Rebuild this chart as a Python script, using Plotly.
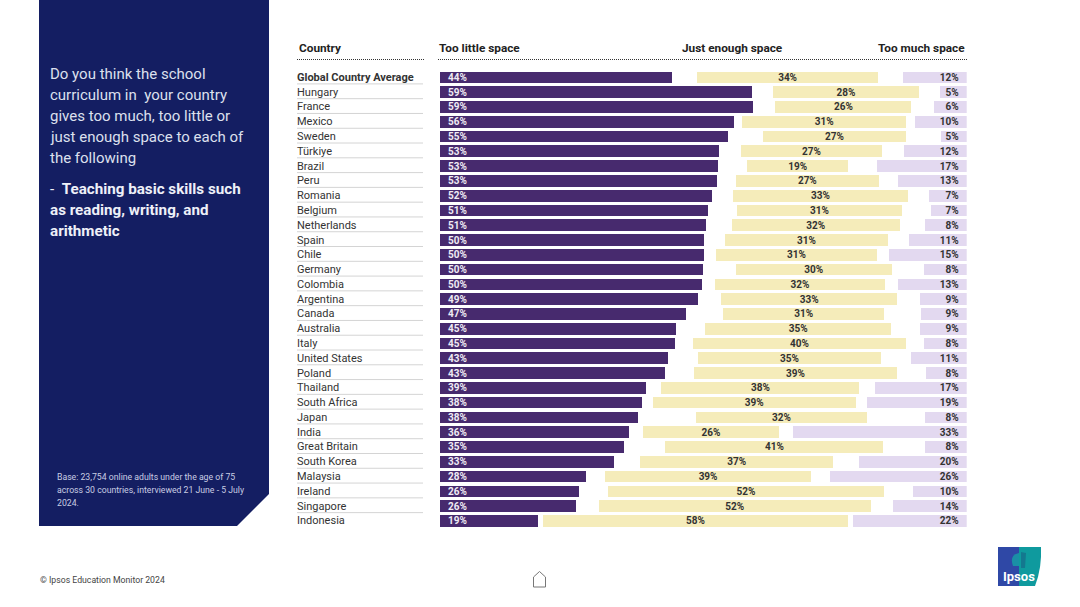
import numpy as np
import plotly.graph_objects as go

W, H = 1080, 607

countries = ["Global Country Average", "Hungary", "France", "Mexico", "Sweden", "Türkiye", "Brazil", "Peru",
             "Romania", "Belgium", "Netherlands", "Spain", "Chile", "Germany", "Colombia", "Argentina", "Canada",
             "Australia", "Italy", "United States", "Poland", "Thailand", "South Africa", "Japan", "India",
             "Great Britain", "South Korea", "Malaysia", "Ireland", "Singapore", "Indonesia"]

# the printed labels are these rounded
too_little = [44.1, 59.3, 59.4, 55.8, 54.7, 53.0, 52.8, 52.6, 51.6, 50.9, 50.6, 50.2, 50.2, 50.0, 49.7, 49.0,
              46.7, 44.9, 44.6, 43.3, 42.7, 39.1, 38.3, 37.6, 35.8, 35.0, 33.1, 27.7, 26.3, 25.9, 18.6]
just_enough = [34.4, 27.6, 25.8, 31.1, 27.0, 26.8, 19.2, 27.2, 33.4, 31.3, 32.0, 31.1, 30.6, 29.6, 32.2, 33.4,
               30.7, 35.3, 40.3, 34.7, 38.7, 37.6, 38.6, 32.3, 25.9, 41.4, 36.6, 39.0, 52.3, 51.6, 57.8]
too_much = [12.1, 5.1, 6.2, 9.9, 4.9, 11.9, 17.0, 13.1, 7.1, 6.8, 7.9, 11.0, 14.8, 8.1, 13.0, 8.8,
            8.6, 8.9, 8.1, 10.6, 7.7, 17.4, 19.0, 7.9, 32.9, 8.0, 20.4, 25.9, 10.1, 14.0, 21.6]

headers = ["Country", "Too little space", "Just enough space", "Too much space"]
question = ["Do you think the school", "curriculum in  your country", "gives too much, too little or",
            "just enough space to each of", "the following"]
statement = ["-  <b>Teaching basic skills such</b>", "<b>as reading, writing, and</b>", "<b>arithmetic</b>"]
base_note = ["Base: 23,754 online adults under the age of 75", "across 30 countries, interviewed 21 June - 5 July",
             "2024."]
footer = "© Ipsos Education Monitor 2024"

FONT = "Roboto"
PURPLE = "#472a6e"
YELLOW = "#f5ecba"
LILAC = "#e3d9f0"
NAVY = "#141e62"
NBSP = "\u00a0"


def px(x):
    return x / W


def py(y):
    return 1 - y / H


# don't knows are left out, so half of the rest sits on each side of the middle bar
gap = (100 - np.array(too_little) - np.array(just_enough) - np.array(too_much)) / 2

fig = go.Figure()


def add_bar(values, color, text=None, anchor="middle", font_color="#333333"):
    fig.add_trace(go.Bar(y=countries, x=values, orientation="h", marker=dict(color=color, line_width=0),
                         text=text, textposition="inside" if text else "none", insidetextanchor=anchor,
                         textangle=0, constraintext="none", cliponaxis=False,
                         insidetextfont=dict(family=FONT, size=10, color=font_color, weight="bold"),
                         hoverinfo="skip" if text is None else None, showlegend=False))


add_bar(too_little, PURPLE, [f"{NBSP}{NBSP}{round(v)}%" for v in too_little], "start", "#efeaf4")
add_bar(gap, "rgba(0,0,0,0)")
add_bar(just_enough, YELLOW, [f"{round(v)}%" for v in just_enough])
add_bar(gap, "rgba(0,0,0,0)")
add_bar(too_much, LILAC, [f"{round(v)}%{NBSP}{NBSP}" for v in too_much], "end")

shapes = []
# left panel with the cut corner
panel = f"M {px(39)} {py(0)} L {px(269)} {py(0)} L {px(269)} {py(494)} L {px(237)} {py(526)} L {px(39)} {py(526)} Z"
shapes.append(dict(type="path", path=panel, xref="paper", yref="paper", fillcolor=NAVY, line_width=0))

# dotted lines below the headers
for x0, x1 in [(297, 424), (438, 968)]:
    shapes.append(dict(type="line", xref="paper", yref="paper", x0=px(x0), x1=px(x1), y0=py(59.5), y1=py(59.5),
                       line=dict(color="#333333", width=1, dash="1px,1px")))

# thin rules under the country names
for i in range(len(countries) - 1):
    shapes.append(dict(type="line", xref="paper", yref="y", x0=px(297), x1=px(423), y0=i + 0.44, y1=i + 0.44,
                       line=dict(color="#d4d4d4", width=1)))

# home icon
home = (f"M {px(533.5)} {py(587)} L {px(533.5)} {py(577)} L {px(539.5)} {py(571.5)} L {px(545.5)} {py(577)} "
        f"L {px(545.5)} {py(587)} Z")
shapes.append(dict(type="path", path=home, xref="paper", yref="paper", fillcolor="white",
                   line=dict(color="#777777", width=1)))

# logo
logo_left = f"M {px(998)} {py(547)} L {px(1019)} {py(547)} L {px(1019)} {py(586)} L {px(998)} {py(586)} Z"
logo_right = (f"M {px(1019)} {py(547)} L {px(1041)} {py(547)} Q {px(1042)} {py(568)} {px(1035)} {py(586)} "
              f"L {px(1019)} {py(586)} Z")
head = f"M {px(1019)} {py(553)} Q {px(1009)} {py(555)} {px(1013)} {py(566)} L {px(1019)} {py(566)} Z"
stem = f"M {px(1021)} {py(552)} L {px(1026)} {py(553)} L {px(1025)} {py(568)} L {px(1021)} {py(568)} Z"
for path, color in [(logo_left, "#2f48a6"), (logo_right, "#0f9a9e"), (head, "#1a8fa6"), (stem, "#14788f")]:
    shapes.append(dict(type="path", path=path, xref="paper", yref="paper", fillcolor=color, line_width=0))

annotations = []


def add_text(text, x, y, size, color, anchor="left", bold=False, yref="paper"):
    annotations.append(dict(text=f"<b>{text}</b>" if bold else text, x=px(x), y=py(y) if yref == "paper" else y,
                            xref="paper", yref=yref, xanchor=anchor, yanchor="middle", showarrow=False,
                            align=anchor, borderpad=0, font=dict(family=FONT, size=size, color=color)))


for i, line in enumerate(question):
    add_text(line, 49, 74 + 21 * i, 15, "#dde0ee")
for i, line in enumerate(statement):
    add_text(line, 49, 188.5 + 21 * i, 15.2, "#eef0f8")
for i, line in enumerate(base_note):
    add_text(line, 55.5, 477 + 13 * i, 8.7, "#c9cde2")

add_text(headers[0], 298, 48, 11.8, "#222222", bold=True)
add_text(headers[1], 438, 47.5, 11.8, "#222222", bold=True)
add_text(headers[2], 732, 47.5, 11.8, "#222222", "center", bold=True)
add_text(headers[3], 966, 47.5, 11.8, "#222222", "right", bold=True)

for i, name in enumerate(countries):
    add_text(name, 296, name, 11, "#333333", bold=i == 0, yref="y")

add_text(footer, 38.5, 580, 8.7, "#444444")
add_text("Ipsos", 1018.5, 576, 13, "white", "center", bold=True)

fig.update_layout(
    width=W, height=H, margin=dict(l=0, r=0, t=0, b=0), autosize=False,
    paper_bgcolor="white", plot_bgcolor="white",
    barmode="stack", bargap=0.21, showlegend=False,
    xaxis=dict(domain=[px(440), px(966.7)], range=[0, 100.01], visible=False),
    yaxis=dict(domain=[py(528.3), py(70)], range=[len(countries) - 0.5, -0.5], visible=False, type="category"),
    shapes=shapes, annotations=annotations,
)

# the page keeps the browser's default body margin otherwise
fig.write_html("out.html", config=dict(displayModeBar=False),
               post_script="document.body.style.margin='0';document.documentElement.style.overflow='hidden';")
